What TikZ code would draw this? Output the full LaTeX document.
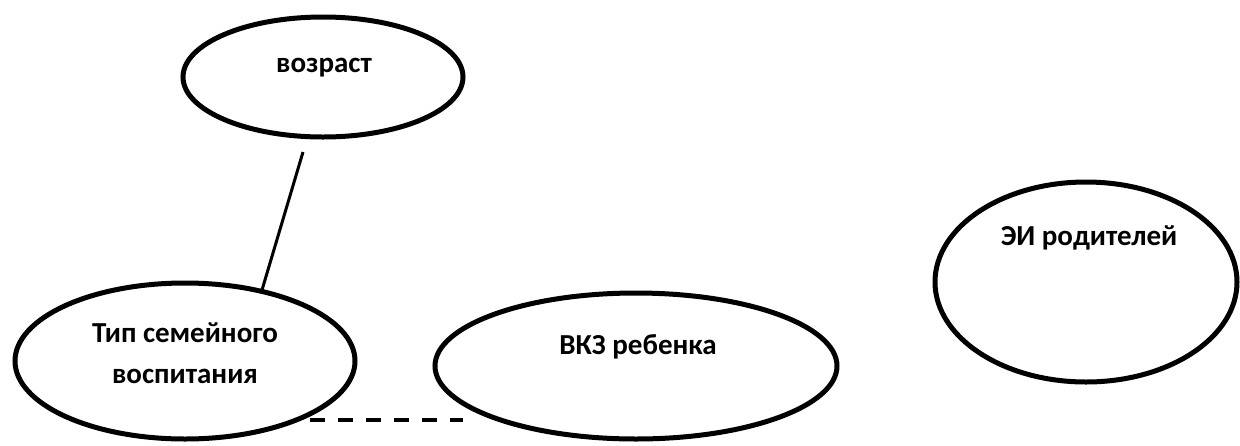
\documentclass[tikz,border=0pt]{standalone}
\usepackage{fontspec}
\setmainfont{Carlito}
\usetikzlibrary{shapes.geometric}
\tikzset{
  oval/.style={draw=black, line width=5pt, ellipse, inner sep=0pt},
  lbl/.style={font=\bfseries\fontsize{29}{41}\selectfont, inner sep=0pt, anchor=base},
  link/.style={draw=black, line width=3pt},
  dlink/.style={draw=black, line width=3.5pt, dash pattern=on 15pt off 13pt}
}
\begin{document}
\begin{tikzpicture}[x=1pt, y=-1pt]
\useasboundingbox (0,0) rectangle (1240,445);
% ellipses
\node[oval, minimum width=280pt, minimum height=120pt] (voz) at (323,77) {};
\node[oval, minimum width=340pt, minimum height=156pt] (tip) at (185,361) {};
\node[oval, minimum width=402pt, minimum height=146pt] (vkz) at (636,366) {};
\node[oval, minimum width=302pt, minimum height=200pt] (ei) at (1086,282) {};
% texts
\node[lbl] (tvoz) at (324,72) {возраст};
\node[lbl] (ttipa) at (185,342) {Тип семейного};
\node[lbl] (ttipb) at (185,383) {воспитания};
\node[lbl] (tvkz) at (638,354) {ВКЗ ребенка};
\node[lbl] (tei) at (1089,245) {ЭИ родителей};
% connectors
\coordinate (c1) at (303,152);
\coordinate (c2) at (262,290);
\draw[link] (c1) -- (c2);
\coordinate (d1) at (310,420);
\coordinate (d2) at (463,420);
\draw[dlink] (d1) -- (d2);
\end{tikzpicture}
\end{document}
